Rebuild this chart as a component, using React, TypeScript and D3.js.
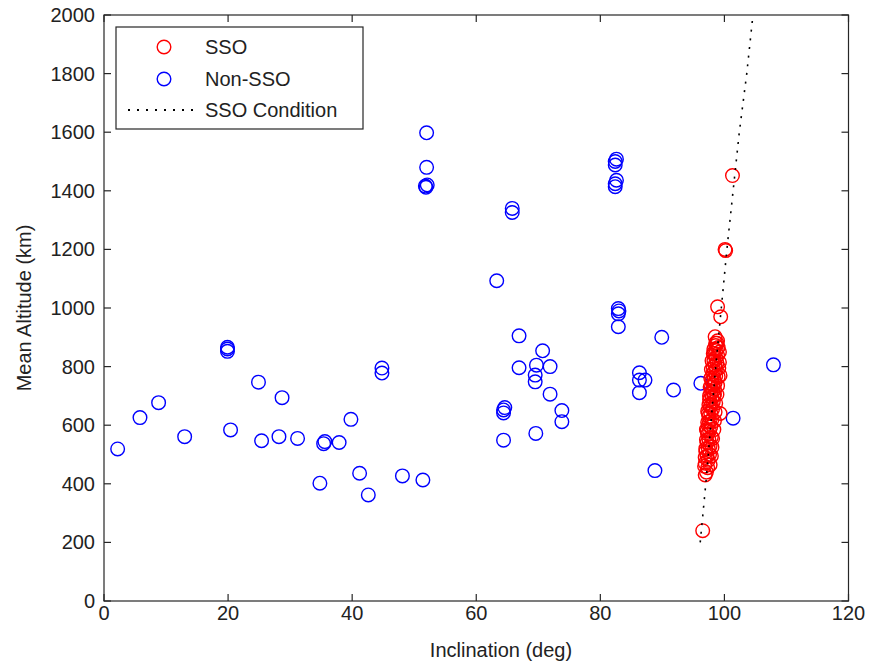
import React from "react";
import * as d3 from "d3";

const xTicks = [0, 20, 40, 60, 80, 100, 120];
const yTicks = [0, 200, 400, 600, 800, 1000, 1200, 1400, 1600, 1800, 2000];

const nonSsoInc = [2.2, 5.8, 8.8, 13.0, 19.9, 19.9, 19.9, 20.4, 24.9, 25.4, 28.2, 28.7, 31.2, 34.8, 35.4, 35.6, 37.9, 39.8, 41.2, 42.6, 44.8, 44.8, 48.1, 51.4, 52.0, 52.0, 51.9, 52.1, 51.8, 65.8, 65.8, 63.3, 82.4, 82.4, 82.6, 82.4, 82.4, 82.6, 82.9, 83.0, 82.9, 82.9, 66.9, 89.9, 70.7, 66.9, 69.7, 71.9, 69.5, 69.5, 71.9, 86.3, 86.3, 87.2, 86.3, 91.8, 96.2, 64.4, 64.4, 64.6, 64.4, 69.6, 73.8, 73.8, 88.8, 101.4, 107.9];
const nonSsoAlt = [519, 626, 677, 561, 852, 860, 866, 584, 747, 547, 561, 694, 555, 402, 537, 544, 541, 620, 436, 362, 795, 778, 427, 413, 1598, 1480, 1412, 1420, 1416, 1326, 1340, 1093, 1488, 1500, 1508, 1414, 1424, 1436, 980, 990, 998, 936, 905, 900, 854, 796, 805, 800, 771, 748, 706, 779, 754, 754, 711, 720, 743, 642, 652, 660, 549, 572, 650, 612, 445, 624, 806];

const ssoInc = [96.5, 96.9, 101.3, 100.1, 100.2, 98.9, 99.4, 98.5, 98.6, 98.9, 97.1, 97.3, 96.9, 97.4, 97.2, 97.6, 97.0, 97.4, 97.7, 97.2, 97.5, 97.9, 97.3, 97.6, 97.1, 97.8, 97.4, 97.6, 98.0, 97.5, 97.8, 97.3, 98.1, 97.7, 97.9, 98.2, 97.6, 98.0, 98.3, 97.8, 98.1, 98.4, 97.9, 98.2, 98.5, 98.0, 98.3, 98.6, 98.1, 98.4, 98.7, 98.2, 98.5, 98.8, 98.3, 98.6, 98.9, 98.4, 98.7, 99.0, 98.6, 98.8,
  96.8, 97.7, 96.9, 97.9, 97.0, 98.0, 97.1, 98.1, 97.2, 98.3, 97.3, 98.4, 97.4, 98.5, 97.5, 98.6, 97.6, 98.8, 97.7, 98.9, 97.8, 99.0, 97.9, 99.1, 98.0, 99.2, 98.2, 99.2, 98.3, 99.3, 98.4, 99.3];
const ssoAlt = [240, 430, 1452, 1200, 1196, 1004, 970, 902, 880, 888, 440, 455, 470, 480, 495, 500, 510, 520, 530, 540, 550, 560, 570, 580, 585, 595, 600, 612, 620, 630, 640, 648, 655, 662, 670, 680, 688, 695, 700, 708, 715, 722, 730, 738, 745, 752, 760, 768, 775, 782, 790, 798, 805, 812, 820, 830, 838, 845, 855, 865, 872, 880,
  460, 465, 490, 495, 520, 525, 550, 555, 580, 585, 610, 615, 640, 645, 670, 675, 700, 705, 730, 735, 760, 765, 790, 795, 820, 815, 845, 850, 860, 770, 705, 640];

const condInc = [96.1, 97.0, 97.8, 98.6, 99.5, 100.4, 101.4, 102.4, 103.6, 104.6];
const condAlt = [200, 400, 600, 800, 1000, 1200, 1400, 1600, 1800, 2000];

const legendLabels = ["SSO", "Non-SSO", "SSO Condition"];

const W = 869, H = 666;
const L = 104, R = 848.5, T = 15, B = 601;
const FONT = "'Liberation Sans', Arial, Helvetica, sans-serif";

export default function App() {
  const x = d3.scaleLinear().domain([0, 120]).range([L, R]);
  const y = d3.scaleLinear().domain([0, 2000]).range([B, T]);
  const line = d3.line<number>().x((_, i) => x(condInc[i])).y((_, i) => y(condAlt[i]));
  const tl = 7;
  const r = 6.8;
  return (
    <svg width={W} height={H} style={{ position: "absolute", left: 0, top: 0, background: "#fff" }} fontFamily={FONT}>
      <rect x={0} y={0} width={W} height={H} fill="#fff" />
      <defs>
        <clipPath id="plot"><rect x={L} y={T} width={R - L} height={B - T} /></clipPath>
      </defs>
      <g clipPath="url(#plot)">
        {nonSsoInc.map((v, i) => (
          <circle key={"b" + i} cx={x(v)} cy={y(nonSsoAlt[i])} r={r} fill="none" stroke="#0000ff" strokeWidth={1.4} />
        ))}
        {ssoInc.map((v, i) => (
          <circle key={"r" + i} cx={x(v)} cy={y(ssoAlt[i])} r={r} fill="none" stroke="#ff0000" strokeWidth={1.4} />
        ))}
        <path d={line(condInc) || ""} fill="none" stroke="#000" strokeWidth={1.6} strokeDasharray="2,6.7" />
      </g>
      <rect x={L} y={T} width={R - L} height={B - T} fill="none" stroke="#262626" strokeWidth={1.2} />
      {xTicks.map((t) => (
        <g key={"xt" + t}>
          <line x1={x(t)} x2={x(t)} y1={B} y2={B - tl} stroke="#262626" strokeWidth={1.2} />
          <line x1={x(t)} x2={x(t)} y1={T} y2={T + tl} stroke="#262626" strokeWidth={1.2} />
          <text x={x(t)} y={620} textAnchor="middle" fontSize={20} fill="#222">{t}</text>
        </g>
      ))}
      {yTicks.map((t) => (
        <g key={"yt" + t}>
          <line x1={L} x2={L + tl} y1={y(t)} y2={y(t)} stroke="#262626" strokeWidth={1.2} />
          <line x1={R} x2={R - tl} y1={y(t)} y2={y(t)} stroke="#262626" strokeWidth={1.2} />
          <text x={95} y={y(t) + 7} textAnchor="end" fontSize={20} fill="#222">{t}</text>
        </g>
      ))}
      <text x={501} y={657} textAnchor="middle" fontSize={20} fill="#222">Inclination (deg)</text>
      <text transform={`translate(31,${(T + B) / 2}) rotate(-90)`} textAnchor="middle" fontSize={20} fill="#222">Mean Altitude (km)</text>
      <rect x={116} y={27} width={247} height={102} fill="#fff" stroke="#262626" strokeWidth={1.2} />
      <circle cx={164} cy={47} r={r} fill="none" stroke="#ff0000" strokeWidth={1.4} />
      <circle cx={164} cy={79} r={r} fill="none" stroke="#0000ff" strokeWidth={1.4} />
      <line x1={128} x2={200} y1={110} y2={110} stroke="#000" strokeWidth={2} strokeDasharray="2,7" />
      {legendLabels.map((lab, i) => (
        <text key={lab} x={205} y={[47, 79, 110][i] + 7} fontSize={20} fill="#222">{lab}</text>
      ))}
    </svg>
  );
}
